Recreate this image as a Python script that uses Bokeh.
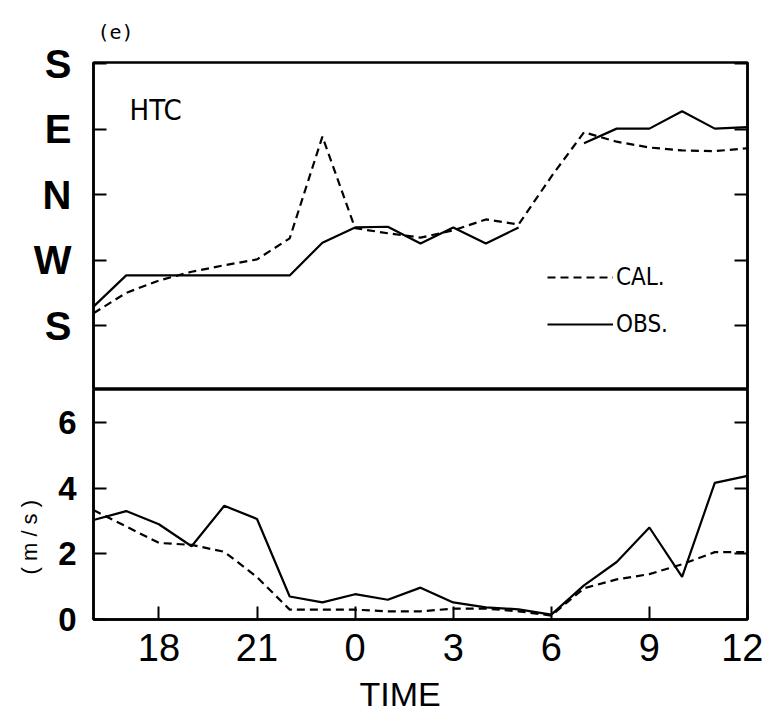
from bokeh.plotting import figure
from bokeh.models import FixedTicker, LinearAxis, Range1d, Label, Legend, LegendItem, Title
from bokeh.layouts import column
from bokeh.embed import file_html
from bokeh.resources import INLINE

nan = float("nan")

# hours from 16 h (day 1) to 12 h (day 2, = 36)
hours = [16, 17, 18, 19, 20, 21, 22, 23, 24, 25, 26, 27, 28, 29, 30, 31, 32, 33, 34, 35, 36]

# wind direction in degrees (S=0, W=90, N=180, E=270, S=360)
dir_cal = [17, 45, 62, 74, 83, 91, 120, 260, 134, 127, 121, 131, 146, 139, 205, 266, 253, 245, 241, 240, 244]
dir_obs = [26, 69, 69, 69, 69, 69, 69, 114, 135, 136, 113, 135, 113, 135, nan, 251, 271, 271, 295, 271, 273]

# wind speed (m/s)
spd_cal = [3.33, 2.83, 2.33, 2.27, 2.06, 1.29, 0.30, 0.30, 0.30, 0.25, 0.25, 0.33, 0.33, 0.25, 0.12, 0.95, 1.22, 1.38, 1.68, 2.05, 2.05]
spd_obs = [3.03, 3.30, 2.90, 2.23, 3.46, 3.06, 0.70, 0.52, 0.77, 0.60, 0.97, 0.52, 0.37, 0.31, 0.15, 1.04, 1.75, 2.80, 1.30, 4.16, 4.37]

dir_ticks = [0, 90, 180, 270, 360]
dir_labels = ["S", "W", "N", "E", "S"]
spd_ticks = [0, 2, 4, 6]
time_ticks = [18, 21, 24, 27, 30, 33, 36]
time_labels = ["18", "21", "0", "3", "6", "9", "12"]

W = 763
LW = 2.2
DASH = "8 5"
FRAME_W = 2.5
NARROW = "DejaVu Sans Condensed, Liberation Sans"

xr = Range1d(16, 36)


def style(p):
    p.grid.visible = False
    p.outline_line_color = "black"
    p.outline_line_width = FRAME_W
    p.background_fill_color = "white"
    p.border_fill_color = "white"


def style_axis(ax):
    ax.major_tick_in = 13
    ax.major_tick_out = 0
    ax.minor_tick_in = 0
    ax.minor_tick_out = 0
    ax.axis_line_width = FRAME_W
    ax.major_tick_line_width = 2
    ax.major_label_text_color = "black"


def tick_only_axis(ticks):
    ax = LinearAxis(ticker=FixedTicker(ticks=ticks),
                    major_label_overrides={t: "" for t in ticks},
                    major_label_standoff=0)
    style_axis(ax)
    return ax


# ---------------- top panel: direction ----------------
top = figure(width=W, height=389, x_range=xr, y_range=Range1d(-88, 362),
             output_backend="svg", toolbar_location=None, x_axis_location=None,
             min_border_top=62, min_border_bottom=0, min_border_left=89, min_border_right=16)
style(top)
top.yaxis.ticker = FixedTicker(ticks=dir_ticks)
top.yaxis.major_label_overrides = dict(zip(dir_ticks, dir_labels))
top.yaxis.major_label_text_font = "Liberation Sans"
top.yaxis.major_label_text_font_style = "bold"
top.yaxis.major_label_text_font_size = "40px"
top.yaxis.major_label_standoff = 22
style_axis(top.yaxis[0])

top.add_layout(tick_only_axis(dir_ticks), "right")

r_cal = top.line(hours, dir_cal, line_color="black", line_width=LW, line_dash=DASH)
r_obs = top.line(hours, dir_obs, line_color="black", line_width=LW)

legend = Legend(items=[LegendItem(label="CAL.", renderers=[r_cal]),
                       LegendItem(label="OBS.", renderers=[r_obs])],
                location=(454, 47), border_line_color=None, background_fill_alpha=0,
                padding=0, margin=0, spacing=11, glyph_width=66, glyph_height=36,
                label_height=36, label_standoff=3, label_text_font_size="24px",
                label_text_font=NARROW, label_text_color="black")
top.add_layout(legend)

top.add_layout(Title(text="(e)", align="left", offset=4, standoff=35,
                     vertical_align="middle",
                     text_font="DejaVu Sans Mono", text_font_size="20px",
                     text_font_style="normal", text_color="black"), "above")
top.add_layout(Label(x=17.9, y=296, text="HTC", text_font=NARROW, text_color="black",
                     text_font_size="29px", text_align="center", text_baseline="middle"))

# ---------------- bottom panel: speed ----------------
bot = figure(width=W, height=333, x_range=xr, y_range=Range1d(0, 7),
             output_backend="svg", toolbar_location=None,
             min_border_top=0, min_border_bottom=103, min_border_left=89, min_border_right=16)
style(bot)
bot.xaxis.ticker = FixedTicker(ticks=time_ticks)
bot.xaxis.major_label_overrides = dict(zip(time_ticks, time_labels))
bot.xaxis.major_label_text_font = "Liberation Sans"
bot.xaxis.major_label_text_font_size = "38px"
bot.xaxis.major_label_standoff = 14
style_axis(bot.xaxis[0])

bot.yaxis.ticker = FixedTicker(ticks=spd_ticks)
bot.yaxis.major_label_text_font = "Liberation Sans"
bot.yaxis.major_label_text_font_style = "bold"
bot.yaxis.major_label_text_font_size = "33px"
bot.yaxis.major_label_standoff = 17
style_axis(bot.yaxis[0])

bot.add_layout(tick_only_axis(spd_ticks[1:]), "right")

bot.line(hours, spd_cal, line_color="black", line_width=LW, line_dash=DASH)
bot.line(hours, spd_obs, line_color="black", line_width=LW)

bot.add_layout(Title(text="TIME", align="left", offset=266, standoff=18,
                     text_font="Liberation Sans", text_font_size="34px",
                     text_font_style="normal", text_color="black"), "below")
bot.add_layout(Title(text="( m / s )", align="left", offset=45, standoff=28,
                     text_font="Liberation Sans", text_font_size="22px",
                     text_font_style="normal", text_color="black"), "left")

layout = column(top, bot, spacing=0)
open("out.html", "w").write(file_html(layout, INLINE))
